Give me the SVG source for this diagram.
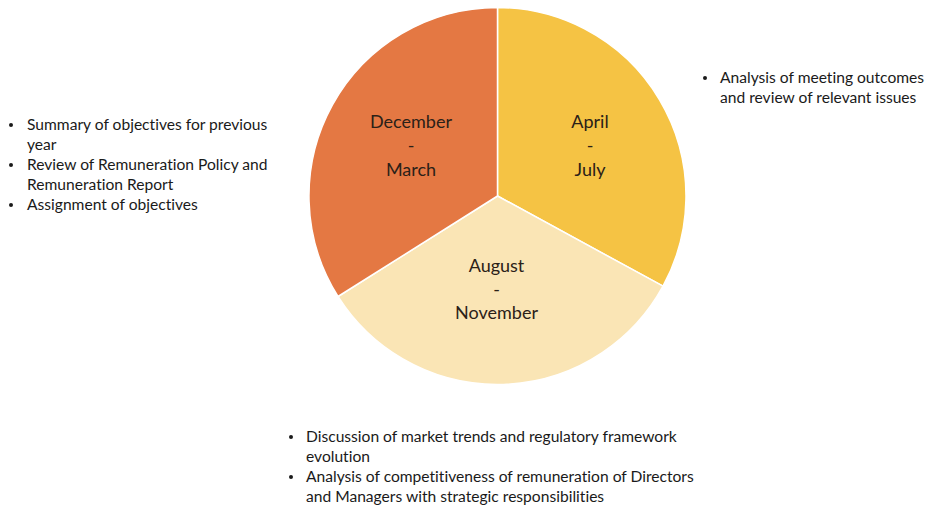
<svg xmlns="http://www.w3.org/2000/svg" width="929" height="506" viewBox="0 0 929 506">
<style>
.slice{stroke:#FFFFFF;stroke-width:1.5;stroke-linejoin:round}
.lbl{font-family:Lato,"Open Sans","Liberation Sans",sans-serif;font-size:18px;fill:#2B2118;text-anchor:middle;font-variant-ligatures:none}
.note{font-family:Lato,"Open Sans","Liberation Sans",sans-serif;font-size:15.6px;fill:#1A1A1A;font-variant-ligatures:none}
.dot{fill:#1A1A1A}
</style>
<rect width="929" height="506" fill="#FFFFFF"/>
<g id="pie">
<g id="slice-apr-jul">
<path class="slice" fill="#F5C344" d="M497.5,196 L497.5,7.5 A188.5,188.5 0 0 1 663,286.2 Z"/>
<text class="lbl" x="590" y="128">April</text>
<text class="lbl" x="590" y="152">-</text>
<text class="lbl" x="590" y="175.5">July</text>
</g>
<g id="slice-aug-nov">
<path class="slice" fill="#FAE5B5" d="M497.5,196 L663,286.2 A188.5,188.5 0 0 1 338,296.5 Z"/>
<text class="lbl" x="496.5" y="272">August</text>
<text class="lbl" x="496.5" y="296">-</text>
<text class="lbl" x="496.5" y="319">November</text>
</g>
<g id="slice-dec-mar">
<path class="slice" fill="#E47843" d="M497.5,196 L338,296.5 A188.5,188.5 0 0 1 497.5,7.5 Z"/>
<text class="lbl" x="411" y="128">December</text>
<text class="lbl" x="411" y="152">-</text>
<text class="lbl" x="411" y="175.5">March</text>
</g>
</g>
<g id="notes-dec-mar">
<circle class="dot" cx="11" cy="125" r="2"/>
<text class="note" x="27" y="130">Summary of objectives for previous</text>
<text class="note" x="27" y="150">year</text>
<circle class="dot" cx="11" cy="165" r="2"/>
<text class="note" x="27" y="170">Review of Remuneration Policy and</text>
<text class="note" x="27" y="190">Remuneration Report</text>
<circle class="dot" cx="11" cy="205" r="2"/>
<text class="note" x="27" y="210">Assignment of objectives</text>
</g>
<g id="notes-apr-jul">
<circle class="dot" cx="705" cy="78" r="2"/>
<text class="note" x="720" y="83">Analysis of meeting outcomes</text>
<text class="note" x="720" y="103">and review of relevant issues</text>
</g>
<g id="notes-aug-nov">
<circle class="dot" cx="291" cy="437" r="2"/>
<text class="note" x="306" y="442">Discussion of market trends and regulatory framework</text>
<text class="note" x="306" y="462">evolution</text>
<circle class="dot" cx="291" cy="477" r="2"/>
<text class="note" x="306" y="482">Analysis of competitiveness of remuneration of Directors</text>
<text class="note" x="306" y="502">and Managers with strategic responsibilities</text>
</g>
<g id="connectors"/>
</svg>
